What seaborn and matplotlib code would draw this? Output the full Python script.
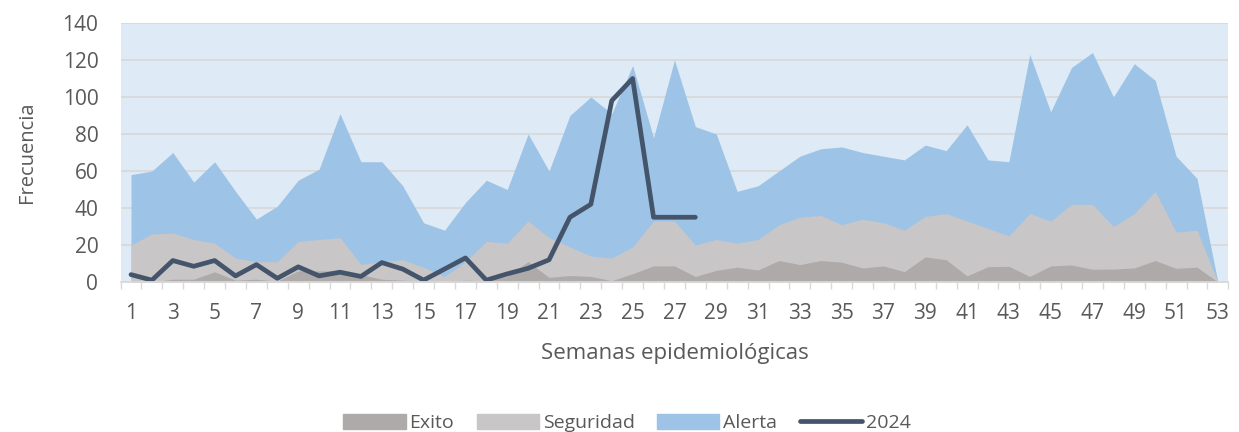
import numpy as np
import pandas as pd
import matplotlib
matplotlib.use("Agg")
import matplotlib.pyplot as plt
from matplotlib.patches import Patch
from matplotlib.lines import Line2D
import seaborn as sns

# Weekly values
semanas = list(range(1, 54))
alerta = [58, 60, 70, 54, 65, 49, 34, 41, 55, 61, 91, 65, 65, 52, 32, 28, 43, 55,
          50, 80, 60, 90, 100, 91, 117, 78, 120, 84, 80, 49, 52, 60, 68, 72, 73,
          70, 68, 66, 74, 71, 85, 66, 65, 123, 92, 116, 124, 100, 118, 109, 68,
          56, 0]
seguridad = [20, 26, 26.5, 23, 21, 13, 11, 11, 22, 23, 24, 9.5, 11, 12, 8, 3, 11,
             22, 21, 33, 24, 19, 14, 13, 19, 33, 33, 20, 23, 21, 23, 31, 35, 36,
             31, 34, 32, 28, 35.5, 37, 33, 29, 25, 37, 33, 42, 42, 30, 37, 49, 27,
             28, 0]
exito = [0.5, 0, 1.5, 1.5, 5.5, 1, 1.5, 0.5, 6, 6, 6, 4, 1.5, 1, 0.5, 0, 1, 0.5,
         3, 11, 2.5, 3.5, 3, 0.7, 4.5, 8.7, 8.7, 3, 6.3, 8, 6.5, 11.6, 9.4, 11.6,
         10.7, 7.6, 8.7, 5.6, 13.6, 12, 3.3, 8.3, 8.5, 3, 8.7, 9.2, 6.9, 7, 7.6,
         11.6, 7.4, 8, 0]
casos_2024 = [4, 1, 11.6, 8.5, 11.6, 3.3, 9.4, 2, 8.2, 3.3, 5.3, 3, 10.5, 7, 1, 7,
              13, 1, 4.4, 7.4, 12, 35, 42, 98, 110, 35, 35, 35]

sns.set_theme(style="white")
plt.rcParams["font.family"] = ["Open Sans", "DejaVu Sans"]

TXT = "#595959"
COL_ALERTA = "#9DC3E6"
COL_SEG = "#C8C6C7"
COL_EXITO = "#AEAAAA"
COL_LINE = "#44546A"

df = pd.DataFrame({"semana": semanas, "alerta": alerta,
                   "seguridad": seguridad, "exito": exito})
df_2024 = pd.DataFrame({"semana": semanas[:len(casos_2024)], "casos": casos_2024})

fig = plt.figure(figsize=(12.39, 4.32), dpi=100)
ax = fig.add_axes([0.0973, 0.3472, 0.8941, 0.5996])
ax.set_facecolor("#DEEAF6")

# areas overlap (not stacked): alerta behind, exito in front
ax.fill_between(df.semana, 0, df.alerta, color=COL_ALERTA, lw=0, zorder=2)
ax.fill_between(df.semana, 0, df.seguridad, color=COL_SEG, lw=0, zorder=3)
ax.fill_between(df.semana, 0, df.exito, color=COL_EXITO, lw=0, zorder=4)
sns.lineplot(data=df_2024, x="semana", y="casos", ax=ax, color=COL_LINE,
             lw=3.4, solid_capstyle="round", zorder=5)

ax.set_xlim(0.5, 53.5)
ax.set_ylim(0, 140)
ax.set_yticks(range(0, 141, 20))
ax.yaxis.grid(True, color="#D9D9D9", lw=1.3, zorder=1)
ax.set_axisbelow(True)
for g in ax.get_ygridlines():
    g.set_zorder(1.5)

ax.set_xticks(range(1, 54, 2))
ax.set_xticks(np.arange(0.5, 54, 1), minor=True)
ax.tick_params(axis="x", which="major", length=0, pad=15, labelsize=15,
               labelcolor=TXT)
ax.tick_params(axis="x", which="minor", length=5, width=1, color="#D9D9D9",
               direction="out", bottom=True)
ax.tick_params(axis="y", length=0, pad=16, labelsize=15, labelcolor=TXT)

for s in ["top", "right", "left"]:
    ax.spines[s].set_visible(False)
ax.spines["bottom"].set_color("#D9D9D9")
ax.spines["bottom"].set_linewidth(1.3)
ax.spines["bottom"].set_zorder(6)

ax.set_xlabel("Semanas epidemiológicas", fontsize=16, color=TXT, labelpad=14)
ax.set_ylabel("Frecuencia", fontsize=14.5, color=TXT, labelpad=18)

handles = [Patch(color=COL_EXITO), Patch(color=COL_SEG), Patch(color=COL_ALERTA),
           Line2D([0], [0], color=COL_LINE, lw=3.4, solid_capstyle="round")]
labels = ["Exito", "Seguridad", "Alerta", "2024"]
leg = fig.legend(handles, labels, loc="center", bbox_to_anchor=(0.506, 0.02),
                 ncol=4, frameon=False, fontsize=14, handlelength=3.2,
                 handleheight=0.75, handletextpad=0.2, columnspacing=1.15)
for t in leg.get_texts():
    t.set_color(TXT)

fig.savefig("out.png", dpi=100)
